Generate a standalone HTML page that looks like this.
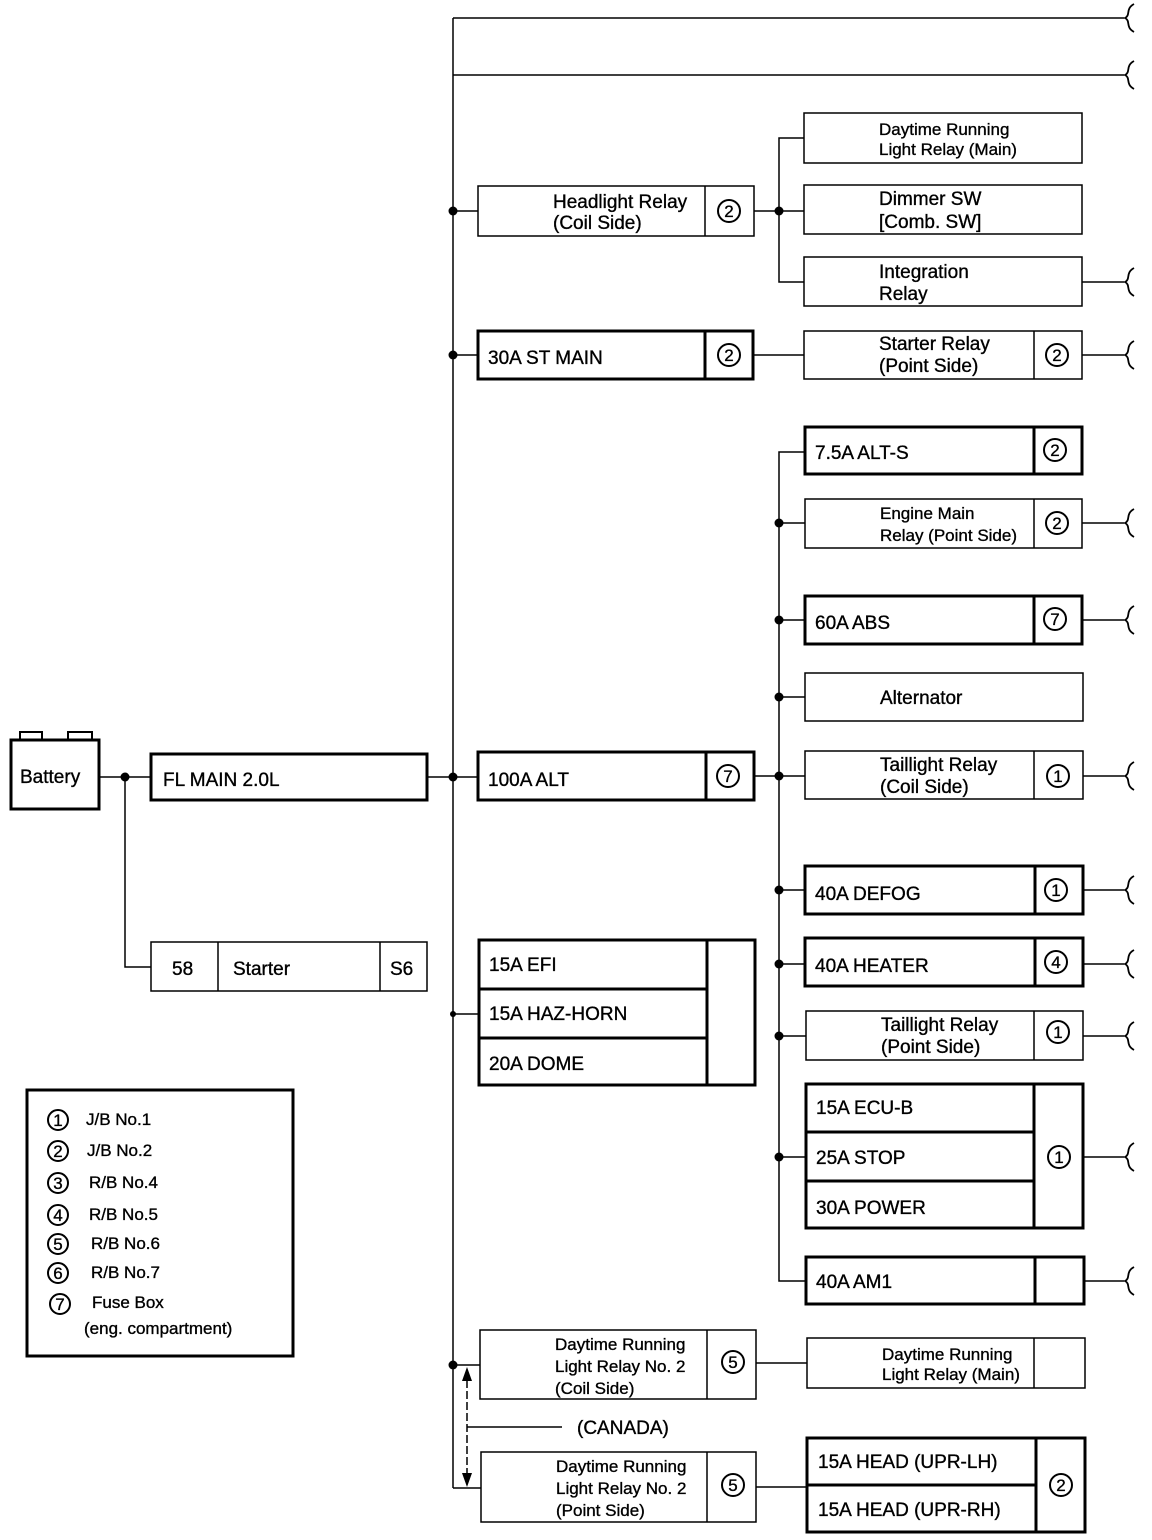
<!DOCTYPE html>
<html><head><meta charset="utf-8"><style>
html,body{margin:0;padding:0;background:#fff}
svg{display:block}
text{font-family:"Liberation Sans",sans-serif;fill:#000;stroke:#000;stroke-width:0.35}
</style></head><body>
<svg width="1152" height="1540" viewBox="0 0 1152 1540" xmlns="http://www.w3.org/2000/svg">
<defs>
<g id="brk"><path d="M1134,-14 C1125,-9 1131,-3 1125,0 C1131,3 1125,9 1134,14" fill="none" stroke="#000" stroke-width="1.8"/></g>
</defs>
<g stroke="#000" fill="none" stroke-width="1.5">
<line x1="453" y1="18" x2="1124" y2="18"/>
<line x1="453" y1="75" x2="1124" y2="75"/>
<line x1="453" y1="18" x2="453" y2="1488"/>
<line x1="453" y1="211" x2="478" y2="211"/>
<line x1="453" y1="355" x2="478" y2="355"/>
<line x1="427" y1="777" x2="478" y2="777"/>
<line x1="453" y1="1014" x2="479" y2="1014"/>
<line x1="453" y1="1365" x2="480" y2="1365"/>
<line x1="453" y1="1488" x2="481" y2="1488"/>
<line x1="100" y1="777" x2="151" y2="777"/>
<polyline points="125,777 125,967 151,967"/>
<line x1="754" y1="211" x2="804" y2="211"/>
<polyline points="804,138 779,138 779,282 804,282"/>
<line x1="1082" y1="282" x2="1124" y2="282"/>
<line x1="753" y1="355" x2="804" y2="355"/>
<line x1="1082" y1="355" x2="1124" y2="355"/>
<line x1="754" y1="776" x2="805" y2="776"/>
<polyline points="805,452 779,452 779,1281 806,1281"/>
<line x1="779" y1="523" x2="805" y2="523"/>
<line x1="779" y1="620" x2="805" y2="620"/>
<line x1="779" y1="697" x2="805" y2="697"/>
<line x1="779" y1="890" x2="805" y2="890"/>
<line x1="779" y1="964" x2="805" y2="964"/>
<line x1="779" y1="1036" x2="806" y2="1036"/>
<line x1="779" y1="1157" x2="806" y2="1157"/>
<line x1="1082" y1="523" x2="1124" y2="523"/>
<line x1="1082" y1="620" x2="1124" y2="620"/>
<line x1="1083" y1="776" x2="1124" y2="776"/>
<line x1="1083" y1="890" x2="1124" y2="890"/>
<line x1="1083" y1="964" x2="1124" y2="964"/>
<line x1="1083" y1="1036" x2="1124" y2="1036"/>
<line x1="1083" y1="1157" x2="1124" y2="1157"/>
<line x1="1084" y1="1281" x2="1124" y2="1281"/>
<line x1="756" y1="1363" x2="807" y2="1363"/>
<line x1="756" y1="1487" x2="807" y2="1487"/>
<line x1="467" y1="1380" x2="467" y2="1474" stroke-dasharray="8,3"/>
<line x1="467" y1="1427" x2="562" y2="1427"/>
</g>
<g fill="#000">
<polygon points="467,1367 462,1381 472,1381"/>
<polygon points="467,1487 462,1473 472,1473"/>
<circle cx="453" cy="211" r="4.5"/><circle cx="453" cy="355" r="4.5"/><circle cx="453" cy="777" r="4.5"/>
<circle cx="453" cy="1014" r="3"/><circle cx="453" cy="1365" r="4.5"/><circle cx="125" cy="777" r="4.5"/>
<circle cx="779" cy="211" r="4.5"/><circle cx="779" cy="776" r="4.5"/><circle cx="779" cy="523" r="4.5"/>
<circle cx="779" cy="620" r="4.5"/><circle cx="779" cy="697" r="4.5"/><circle cx="779" cy="890" r="4.5"/>
<circle cx="779" cy="964" r="4.5"/><circle cx="779" cy="1036" r="4.5"/><circle cx="779" cy="1157" r="4.5"/>
</g>
<g>
<use href="#brk" transform="translate(0,18)"/><use href="#brk" transform="translate(0,75)"/>
<use href="#brk" transform="translate(0,282)"/><use href="#brk" transform="translate(0,355)"/>
<use href="#brk" transform="translate(0,523)"/><use href="#brk" transform="translate(0,620)"/>
<use href="#brk" transform="translate(0,776)"/><use href="#brk" transform="translate(0,890)"/>
<use href="#brk" transform="translate(0,964)"/><use href="#brk" transform="translate(0,1036)"/>
<use href="#brk" transform="translate(0,1157)"/><use href="#brk" transform="translate(0,1281)"/>
</g>
<g stroke="#000" fill="none" stroke-width="1.5">
<rect x="478" y="186" width="276" height="50"/><line x1="705" y1="186" x2="705" y2="236"/>
<rect x="804" y="113" width="278" height="50"/>
<rect x="804" y="185" width="278" height="49"/>
<rect x="804" y="257" width="278" height="49"/>
<rect x="804" y="331" width="278" height="48"/><line x1="1034" y1="331" x2="1034" y2="379"/>
<rect x="805" y="499" width="277" height="49"/><line x1="1034" y1="499" x2="1034" y2="548"/>
<rect x="805" y="673" width="278" height="48"/>
<rect x="805" y="751" width="278" height="48"/><line x1="1034" y1="751" x2="1034" y2="799"/>
<rect x="806" y="1011" width="277" height="49"/><line x1="1034" y1="1011" x2="1034" y2="1060"/>
<rect x="151" y="942" width="276" height="49"/><line x1="218" y1="942" x2="218" y2="991"/><line x1="380" y1="942" x2="380" y2="991"/>
<rect x="480" y="1330" width="276" height="69"/><line x1="707" y1="1330" x2="707" y2="1399"/>
<rect x="807" y="1338" width="278" height="50"/><line x1="1034" y1="1338" x2="1034" y2="1388"/>
<rect x="481" y="1452" width="275" height="70"/><line x1="707" y1="1452" x2="707" y2="1522"/>
</g>
<g stroke="#000" fill="none" stroke-width="3">
<rect x="478" y="331" width="275" height="48"/><line x1="705" y1="331" x2="705" y2="379"/>
<rect x="805" y="427" width="277" height="47"/><line x1="1034" y1="427" x2="1034" y2="474"/>
<rect x="805" y="596" width="277" height="48"/><line x1="1034" y1="596" x2="1034" y2="644"/>
<rect x="805" y="866" width="278" height="48"/><line x1="1035" y1="866" x2="1035" y2="914"/>
<rect x="805" y="938" width="278" height="48"/><line x1="1035" y1="938" x2="1035" y2="986"/>
<rect x="806" y="1084" width="277" height="144"/><line x1="1034" y1="1084" x2="1034" y2="1228"/>
<line x1="806" y1="1132" x2="1034" y2="1132"/><line x1="806" y1="1181" x2="1034" y2="1181"/>
<rect x="806" y="1257" width="278" height="47"/><line x1="1035" y1="1257" x2="1035" y2="1304"/>
<rect x="151" y="754" width="276" height="46"/>
<rect x="478" y="752" width="276" height="48"/><line x1="706" y1="752" x2="706" y2="800"/>
<rect x="11" y="740" width="88" height="69"/>
<rect x="479" y="940" width="276" height="145"/><line x1="707" y1="940" x2="707" y2="1085"/>
<line x1="479" y1="989" x2="707" y2="989"/><line x1="479" y1="1038" x2="707" y2="1038"/>
<rect x="807" y="1438" width="278" height="94"/><line x1="1036" y1="1438" x2="1036" y2="1532"/>
<line x1="807" y1="1485" x2="1036" y2="1485"/>
<rect x="27" y="1090" width="266" height="266"/>
</g>
<g stroke="#000" fill="none" stroke-width="2">
<polyline points="20,740 20,732 42,732 42,740"/>
<polyline points="68,740 68,732 92,732 92,740"/>
</g>
<g stroke="#000" fill="none" stroke-width="2">
<circle cx="729" cy="211" r="11"/><circle cx="729" cy="355" r="11"/><circle cx="1057" cy="355" r="11"/>
<circle cx="1055" cy="450" r="11"/><circle cx="1057" cy="523" r="11"/><circle cx="1055" cy="619" r="11"/>
<circle cx="728" cy="776" r="11"/><circle cx="1058" cy="776" r="11"/><circle cx="1056" cy="890" r="11"/>
<circle cx="1056" cy="962" r="11"/><circle cx="1058" cy="1032" r="11"/><circle cx="1059" cy="1157" r="11"/>
<circle cx="733" cy="1362" r="11"/><circle cx="733" cy="1485" r="11"/><circle cx="1061" cy="1485" r="11"/>
<circle cx="58" cy="1120" r="10"/><circle cx="58" cy="1151" r="10"/><circle cx="58" cy="1183" r="10"/>
<circle cx="58" cy="1215" r="10"/><circle cx="58" cy="1244" r="10"/><circle cx="58" cy="1273" r="10"/><circle cx="60" cy="1304" r="10"/>
</g>
<g font-size="17" text-anchor="middle">
<text x="729" y="217">2</text><text x="729" y="361">2</text><text x="1057" y="361">2</text>
<text x="1055" y="456">2</text><text x="1057" y="529">2</text><text x="1055" y="625">7</text>
<text x="728" y="782">7</text><text x="1058" y="782">1</text><text x="1056" y="896">1</text>
<text x="1056" y="968">4</text><text x="1058" y="1038">1</text><text x="1059" y="1163">1</text>
<text x="733" y="1368">5</text><text x="733" y="1491">5</text><text x="1061" y="1491">2</text>
<text x="58" y="1126">1</text><text x="58" y="1157">2</text><text x="58" y="1189">3</text>
<text x="58" y="1221">4</text><text x="58" y="1250">5</text><text x="58" y="1279">6</text><text x="60" y="1310">7</text>
</g>
<g font-size="19">
<text x="553" y="208">Headlight Relay</text><text x="553" y="229">(Coil Side)</text>
<text x="879" y="205">Dimmer SW</text><text x="879" y="228">[Comb. SW]</text>
<text x="879" y="278">Integration</text><text x="879" y="300">Relay</text>
<text x="488" y="364">30A ST MAIN</text>
<text x="879" y="350">Starter Relay</text><text x="879" y="372">(Point Side)</text>
<text x="815" y="459">7.5A ALT-S</text>
<text x="815" y="629">60A ABS</text>
<text x="880" y="704">Alternator</text>
<text x="880" y="771">Taillight Relay</text><text x="880" y="793">(Coil Side)</text>
<text x="815" y="900">40A DEFOG</text>
<text x="815" y="972">40A HEATER</text>
<text x="881" y="1031">Taillight Relay</text><text x="881" y="1053">(Point Side)</text>
<text x="816" y="1114">15A ECU-B</text><text x="816" y="1164">25A STOP</text><text x="816" y="1214">30A POWER</text>
<text x="816" y="1288">40A AM1</text>
<text x="163" y="786">FL MAIN 2.0L</text>
<text x="488" y="786">100A ALT</text>
<text x="20" y="783">Battery</text>
<text x="172" y="975">58</text><text x="233" y="975">Starter</text><text x="390" y="975">S6</text>
<text x="489" y="971">15A EFI</text><text x="489" y="1020">15A HAZ-HORN</text><text x="489" y="1070">20A DOME</text>
<text x="577" y="1434">(CANADA)</text>
<text x="818" y="1468">15A HEAD (UPR-LH)</text><text x="818" y="1516">15A HEAD (UPR-RH)</text>
</g>
<g font-size="17">
<text x="879" y="135">Daytime Running</text><text x="879" y="155">Light Relay (Main)</text>
<text x="880" y="519">Engine Main</text><text x="880" y="541">Relay (Point Side)</text>
<text x="555" y="1350">Daytime Running</text><text x="555" y="1372">Light Relay No. 2</text><text x="555" y="1394">(Coil Side)</text>
<text x="882" y="1360">Daytime Running</text><text x="882" y="1380">Light Relay (Main)</text>
<text x="556" y="1472">Daytime Running</text><text x="556" y="1494">Light Relay No. 2</text><text x="556" y="1516">(Point Side)</text>
</g>
<g font-size="17">
<text x="86" y="1125">J/B No.1</text><text x="87" y="1156">J/B No.2</text><text x="89" y="1188">R/B No.4</text>
<text x="89" y="1220">R/B No.5</text><text x="91" y="1249">R/B No.6</text><text x="91" y="1278">R/B No.7</text>
<text x="92" y="1308">Fuse Box</text><text x="84" y="1334">(eng. compartment)</text>
</g>
</svg>
</body></html>
